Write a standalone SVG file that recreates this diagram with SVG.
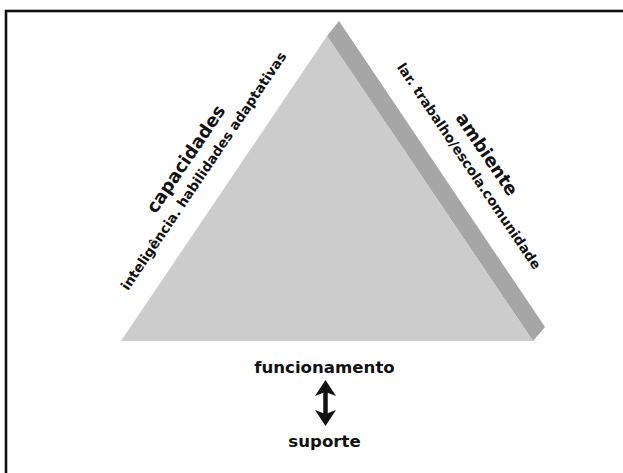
<svg xmlns="http://www.w3.org/2000/svg" width="623" height="473" viewBox="0 0 623 473">
<style>
.t{font-family:"DejaVu Sans","Verdana",sans-serif;font-weight:bold;fill:#111;text-anchor:middle}
.title{font-size:18px}
.sub{font-size:13.6px}
.bot{font-size:16.6px}
</style>
<defs>
<marker id="head" viewBox="0 0 16 21" refX="10" refY="10.5" markerWidth="16" markerHeight="21" markerUnits="userSpaceOnUse" orient="auto-start-reverse">
<path d="M0,0 L16,10.5 L0,21 L4,10.5 Z" fill="#111"/>
</marker>
</defs>
<rect x="0" y="0" width="623" height="473" fill="#fff"/>
<rect x="6" y="11" width="640" height="480" fill="none" stroke="#111" stroke-width="2.6"/>
<g id="triangle">
<polygon points="327,36 339,21 545,327 533,341" fill="#a6a6a6"/>
<polygon points="327,36 533,341 121,341" fill="#cccccc"/>
</g>
<g id="capacidades">
<text class="t title" transform="translate(190.9,162.5) rotate(-55.96)">capacidades</text>
<text class="t sub" transform="translate(207.5,173.7) rotate(-55.96)">inteligência. habilidades adaptativas</text>
</g>
<g id="ambiente">
<text class="t title" transform="translate(481.8,157.5) rotate(55.96)">ambiente</text>
<text class="t sub" transform="translate(465.2,168.7) rotate(55.96)">lar. trabalho/escola.comunidade</text>
</g>
<g id="funcionamento">
<text class="t bot" x="324.5" y="373">funcionamento</text>
</g>
<g id="suporte">
<text class="t bot" x="324.5" y="447">suporte</text>
</g>
<g id="connectors">
<line x1="325.5" y1="386" x2="325.5" y2="420" stroke="#111" stroke-width="4.5" marker-start="url(#head)" marker-end="url(#head)"/>
</g>
</svg>
